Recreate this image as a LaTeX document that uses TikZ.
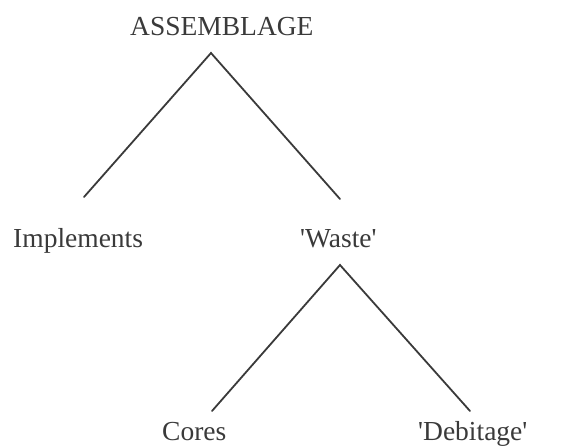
\documentclass[tikz,border=0pt]{standalone}
\usepackage{fontspec}
\setmainfont{Liberation Serif}
\definecolor{treeInk}{HTML}{3A3A3A}
\usepackage{tikz}
\usetikzlibrary{positioning}

\begin{document}
\begin{tikzpicture}[x=1pt, y=-1pt, font=\fontsize{27.5}{30}\selectfont,
  label/.style={text=treeInk, inner sep=0pt, anchor=base west},
  branch/.style={treeInk, line width=1.8pt, line cap=round}]
\useasboundingbox (0,0) rectangle (584,447);
% labels
\node[label] (assemblage) at (130,35) {ASSEMBLAGE};
\node[label] (implements) at (13,247) {Implements};
\node[label] (waste) at (300,247) {\textquotesingle Waste\textquotesingle};
\node[label] (cores) at (162,440) {Cores};
\node[label] (debitage) at (418,440) {\textquotesingle Debitage\textquotesingle};
% branch points
\coordinate (top) at (211,53);
\coordinate (impEnd) at (84,197);
\coordinate (wasteEnd) at (340,199);
\coordinate (wasteTop) at (340,265);
\coordinate (coresEnd) at (212,411);
\coordinate (debEnd) at (470,411);
% first split
\draw[branch] (impEnd) -- (top) -- (wasteEnd);
% second split
\draw[branch] (coresEnd) -- (wasteTop) -- (debEnd);
\end{tikzpicture}
\end{document}
